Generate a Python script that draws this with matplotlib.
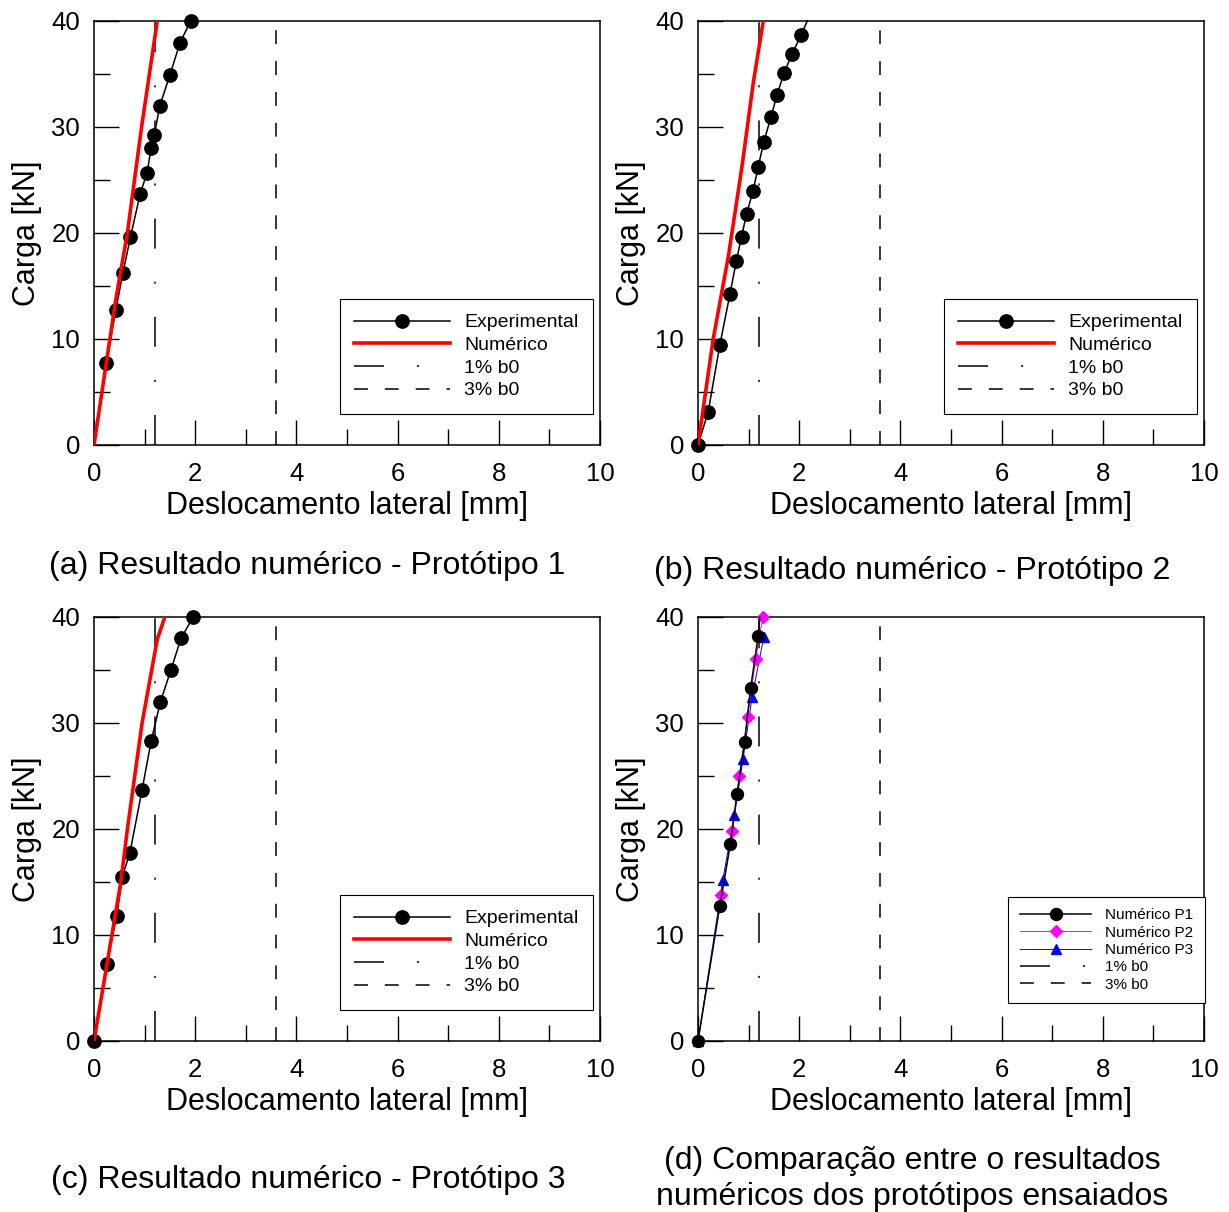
import matplotlib
matplotlib.use("Agg")
import matplotlib.pyplot as plt
from matplotlib.ticker import MultipleLocator

plt.rcParams['font.family'] = ['Liberation Sans', 'DejaVu Sans']
plt.rcParams['lines.scale_dashes'] = False

# ---------------- data ----------------
# Panel (a) - Prototype 1
exp1_x = [0.24, 0.43, 0.57, 0.72, 0.91, 1.05, 1.13, 1.19, 1.30, 1.50, 1.70, 1.91]
exp1_y = [7.7, 12.7, 16.2, 19.6, 23.65, 25.7, 28.05, 29.2, 32.0, 34.9, 37.95, 40.0]
num1_x = [0.0, 0.43, 0.66, 0.94, 1.25]
num1_y = [0.0, 13.7, 20.0, 30.0, 40.0]

# Panel (b) - Prototype 2
exp2_x = [0.0, 0.20, 0.43, 0.63, 0.76, 0.86, 0.96, 1.09, 1.19, 1.30, 1.44, 1.56, 1.70, 1.86, 2.04, 2.16]
exp2_y = [0.0, 3.1, 9.4, 14.2, 17.4, 19.65, 21.8, 24.0, 26.25, 28.6, 30.9, 33.0, 35.1, 36.9, 38.7, 40.0]
num2_x = [0.0, 0.30, 0.60, 0.87, 1.09, 1.29]
num2_y = [0.0, 10.0, 17.8, 26.3, 34.1, 40.0]

# Panel (c) - Prototype 3
exp3_x = [0.0, 0.25, 0.45, 0.56, 0.71, 0.95, 1.13, 1.31, 1.52, 1.72, 1.96]
exp3_y = [0.0, 7.3, 11.8, 15.5, 17.75, 23.7, 28.3, 31.95, 35.0, 38.0, 40.0]
num3_x = [0.0, 0.53, 0.66, 0.95, 1.25, 1.40]
num3_y = [0.0, 15.0, 20.0, 30.0, 37.9, 40.0]

# Panel (d) - numerical comparison
p1_x = [0.0, 0.43, 0.64, 0.77, 0.92, 1.04, 1.19, 1.22]
p1_y = [0.0, 12.7, 18.6, 23.3, 28.2, 33.3, 38.2, 40.0]
p2_x = [0.0, 0.46, 0.68, 0.82, 0.98, 1.14, 1.28]
p2_y = [0.0, 13.75, 19.8, 25.0, 30.6, 36.0, 40.0]
p3_x = [0.0, 0.49, 0.72, 0.89, 1.07, 1.30]
p3_y = [0.0, 15.2, 21.3, 26.6, 32.5, 38.1]

drift_1pct = 1.2
drift_3pct = 3.6

x_label = "Deslocamento lateral [mm]"
y_label = "Carga [kN]"
captions = ["(a) Resultado numérico - Protótipo 1",
            "(b) Resultado numérico - Protótipo 2",
            "(c) Resultado numérico - Protótipo 3",
            "(d) Comparação entre o resultados\nnuméricos dos protótipos ensaiados"]

# ---------------- figure ----------------
W, H = 1229, 1212
fig = plt.figure(figsize=(W / 100, H / 100), dpi=100)

def px_axes(x0, y0, x1, y1):
    return fig.add_axes([x0 / W, 1 - y1 / H, (x1 - x0) / W, (y1 - y0) / H])

dash_1 = (0, (21.6, 23.8, 1.5, 23.8))
dash_3 = (0, (10.0, 12.2))


def style_axes(ax):
    ax.set_xlim(0, 10)
    ax.set_ylim(0, 40)
    ax.xaxis.set_major_locator(MultipleLocator(2))
    ax.xaxis.set_minor_locator(MultipleLocator(1))
    ax.yaxis.set_major_locator(MultipleLocator(10))
    ax.yaxis.set_minor_locator(MultipleLocator(5))
    ax.tick_params(which='both', direction='in', top=False, right=False,
                   width=1.0, color='black', labelsize=18.5)
    ax.tick_params(axis='x', which='both', pad=12)
    ax.tick_params(axis='y', which='both', pad=10)
    ax.tick_params(which='major', length=18)
    ax.tick_params(which='minor', length=11.5)
    for s in ax.spines.values():
        s.set_linewidth(1.1)
        s.set_color('black')
    ax.set_xlabel(x_label, fontsize=22, labelpad=4)
    ax.set_ylabel(y_label, fontsize=22, labelpad=7)


def ref_lines(ax):
    ax.axvline(drift_1pct, color='black', lw=1.1, linestyle=dash_1, label='1% b0')
    ax.axvline(drift_3pct, color='black', lw=1.1, linestyle=dash_3, label='3% b0')


boxes = [(94, 21, 600, 445), (698, 21, 1204, 445), (94, 617, 600, 1041), (698, 617, 1204, 1041)]
exps = [(exp1_x, exp1_y), (exp2_x, exp2_y), (exp3_x, exp3_y)]
nums = [(num1_x, num1_y), (num2_x, num2_y), (num3_x, num3_y)]

for i in range(3):
    ax = px_axes(*boxes[i])
    ex, ey = exps[i]
    nx, ny = nums[i]
    mev = list(range(len(ex) - 1)) if i == 1 else None
    ax.plot(ex, ey, color='black', lw=1.1, marker='o', markersize=9.6,
            markevery=mev, label='Experimental', zorder=3, clip_on=False)
    ax.plot(nx, ny, color='#ff0000', lw=2.6, label='Numérico', zorder=4)
    ref_lines(ax)
    style_axes(ax)
    leg = ax.legend(loc='upper left', bbox_to_anchor=(0.486, 0.344), borderaxespad=0,
                    fontsize=14, handlelength=4.9, handletextpad=0.75,
                    labelspacing=0.26, borderpad=0.75, fancybox=False, framealpha=1,
                    edgecolor='black')
    leg.get_frame().set_linewidth(0.8)

ax = px_axes(*boxes[3])
ax.plot(p3_x, p3_y, color='#0000ff', lw=0.7, marker='^', markersize=7.5,
        label='Numérico P3', zorder=3, clip_on=False)
ax.plot(p2_x, p2_y, color='#ff00ff', lw=0.7, marker='D', markersize=6,
        label='Numérico P2', zorder=4, clip_on=False)
ax.plot(p1_x, p1_y, color='black', lw=1.1, marker='o', markersize=8.6,
        markevery=list(range(len(p1_x) - 1)), label='Numérico P1', zorder=5, clip_on=False)
ref_lines(ax)
style_axes(ax)
h, l = ax.get_legend_handles_labels()
order = [2, 1, 0, 3, 4]
leg = ax.legend([h[k] for k in order], [l[k] for k in order],
                loc='upper left', bbox_to_anchor=(0.613, 0.34), borderaxespad=0,
                fontsize=11, handlelength=4.7, handletextpad=0.9,
                labelspacing=0.22, borderpad=0.75, fancybox=False, framealpha=1,
                edgecolor='black')
leg.get_frame().set_linewidth(0.8)

cap_pos = [(307, 566), (912, 571), (308, 1180), (912, 1179)]
for (cx, cy), txt in zip(cap_pos, captions):
    fig.text(cx / W, 1 - cy / H, txt, ha='center', va='center', fontsize=23,
             linespacing=1.27)

fig.savefig("out.png", dpi=100)
